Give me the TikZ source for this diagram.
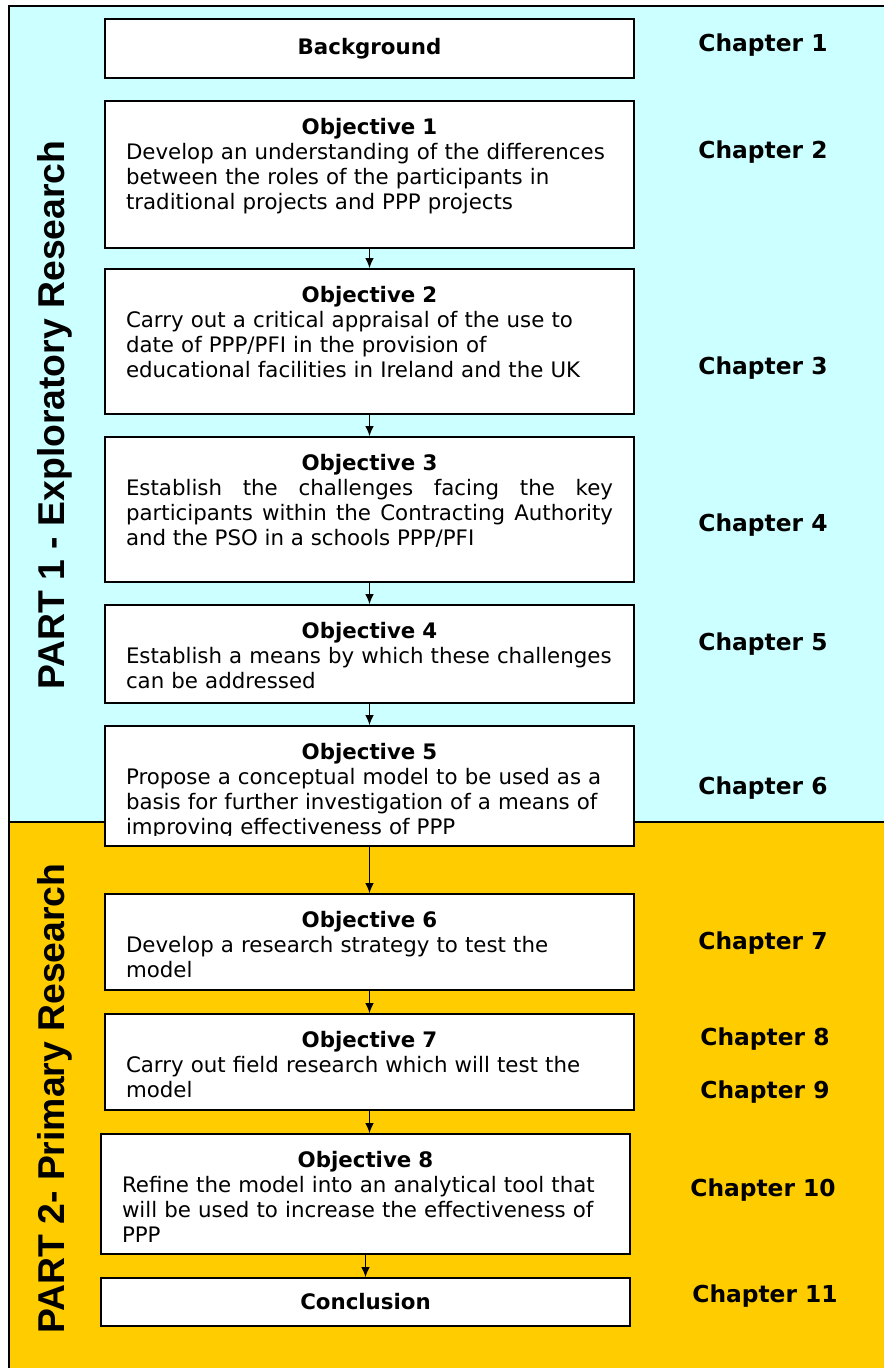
\documentclass[tikz,border=0pt]{standalone}
\usepackage{fontspec}
\setmainfont{DejaVu Sans}
\newfontfamily\partfont{Liberation Sans}
\usetikzlibrary{positioning,arrows.meta}
\definecolor{partone}{HTML}{CCFFFF}
\definecolor{parttwo}{HTML}{FFCC00}

\begin{document}
\begin{tikzpicture}[x=0.75pt,y=-0.75pt,
    objbox/.style={draw=black,line width=1.3pt,fill=white,minimum width=396.75pt,inner sep=0pt,font=\fontsize{16}{18.75}\selectfont\bfseries},
    objtext/.style={anchor=north,inner sep=0pt,text width=365.25pt,align=left,font=\fontsize{16}{18.75}\selectfont},
    chap/.style={font=\fontsize{17.5}{21}\selectfont\bfseries},
    part/.style={rotate=90,anchor=base,font=\partfont\fontsize{28}{32}\selectfont\bfseries},
    flow/.style={-{Latex[length=7.5pt,width=6.5pt]},line width=1.1pt}]
    \useasboundingbox (0,0) rectangle (884,1368);
    \fill[partone] (9,6) rectangle (890,822);
    \fill[parttwo] (9,822) rectangle (890,1375);
    \draw[line width=1.3pt] (890,6) -- (9,6) -- (9,1375);
    \draw[line width=1.3pt] (9,822) -- (890,822);

    \node[part] (p1) at (64,415) {PART 1 - Exploratory Research};
    \node[part] (p2) at (64,1098.5) {PART 2- Primary Research};

    \node[objbox,minimum height=44.25pt] (bg) at (369.5,48.5) {Background};

    \node[objbox,minimum height=110.25pt] (o1) at (369.5,174.5) {};
    \node[objtext,below=13.3pt of o1.north] (t1) {\makebox[\linewidth]{\bfseries Objective 1}\\
        Develop an understanding of the differences\\
        between the roles of the participants in\\
        traditional projects and PPP projects};

    \node[objbox,minimum height=108.75pt] (o2) at (369.5,341.5) {};
    \node[objtext,below=13.3pt of o2.north] (t2) {\makebox[\linewidth]{\bfseries Objective 2}\\
        Carry out a critical appraisal of the use to\\
        date of PPP/PFI in the provision of\\
        educational facilities in Ireland and the UK};

    \node[objbox,minimum height=108.75pt] (o3) at (369.5,509.5) {};
    \node[objtext,align=justify,below=13.3pt of o3.north] (t3) {\makebox[\linewidth]{\bfseries Objective 3}\\
        Establish the challenges facing the key\linebreak
        participants within the Contracting Authority\linebreak
        and the PSO in a schools PPP/PFI};

    \node[objbox,minimum height=73.5pt] (o4) at (369.5,654) {};
    \node[objtext,below=13.3pt of o4.north] (t4) {\makebox[\linewidth]{\bfseries Objective 4}\\
        Establish a means by which these challenges\\
        can be addressed};

    \node[objbox,minimum height=90pt] (o5) at (369.5,786) {};
    \begin{scope}
        \clip (105,726) rectangle (634,835);
        \node[objtext,below=13.3pt of o5.north] (t5) {\makebox[\linewidth]{\bfseries Objective 5}\\
            Propose a conceptual model to be used as a\\
            basis for further investigation of a means of\\
            improving effectiveness of PPP};
    \end{scope}

    \node[objbox,minimum height=72pt] (o6) at (369.5,942) {};
    \node[objtext,below=13.3pt of o6.north] (t6) {\makebox[\linewidth]{\bfseries Objective 6}\\
        Develop a research strategy to test the\\
        model};

    \node[objbox,minimum height=72pt] (o7) at (369.5,1062) {};
    \node[objtext,below=13.3pt of o7.north] (t7) {\makebox[\linewidth]{\bfseries Objective 7}\\
        Carry out field research which will test the\\
        model};

    \node[objbox,minimum height=90pt] (o8) at (365.5,1194) {};
    \node[objtext,below=13.3pt of o8.north] (t8) {\makebox[\linewidth]{\bfseries Objective 8}\\
        Refine the model into an analytical tool that\\
        will be used to increase the effectiveness of\\
        PPP};

    \node[objbox,minimum height=36pt] (conc) at (365.5,1302) {Conclusion};

    \draw[flow] (o1) -- (o2);
    \draw[flow] (o2) -- (o3);
    \draw[flow] (o3) -- (o4);
    \draw[flow] (o4) -- (o5);
    \draw[flow] (o5) -- (o6);
    \draw[flow] (o6) -- (o7);
    \draw[flow] (o7.south) -- (o7.south |- o8.north);
    \draw[flow] (o8) -- (conc);

    \node[chap] (c1) at (763,45) {Chapter 1};
    \node[chap] (c2) at (763,152) {Chapter 2};
    \node[chap] (c3) at (763,368) {Chapter 3};
    \node[chap] (c4) at (763,525) {Chapter 4};
    \node[chap] (c5) at (763,644) {Chapter 5};
    \node[chap] (c6) at (763,788) {Chapter 6};
    \node[chap] (c7) at (763,943) {Chapter 7};
    \node[chap] (c8) at (765,1039) {Chapter 8};
    \node[chap] (c9) at (765,1092) {Chapter 9};
    \node[chap] (c10) at (763,1190) {Chapter 10};
    \node[chap] (c11) at (765,1296) {Chapter 11};
\end{tikzpicture}
\end{document}
